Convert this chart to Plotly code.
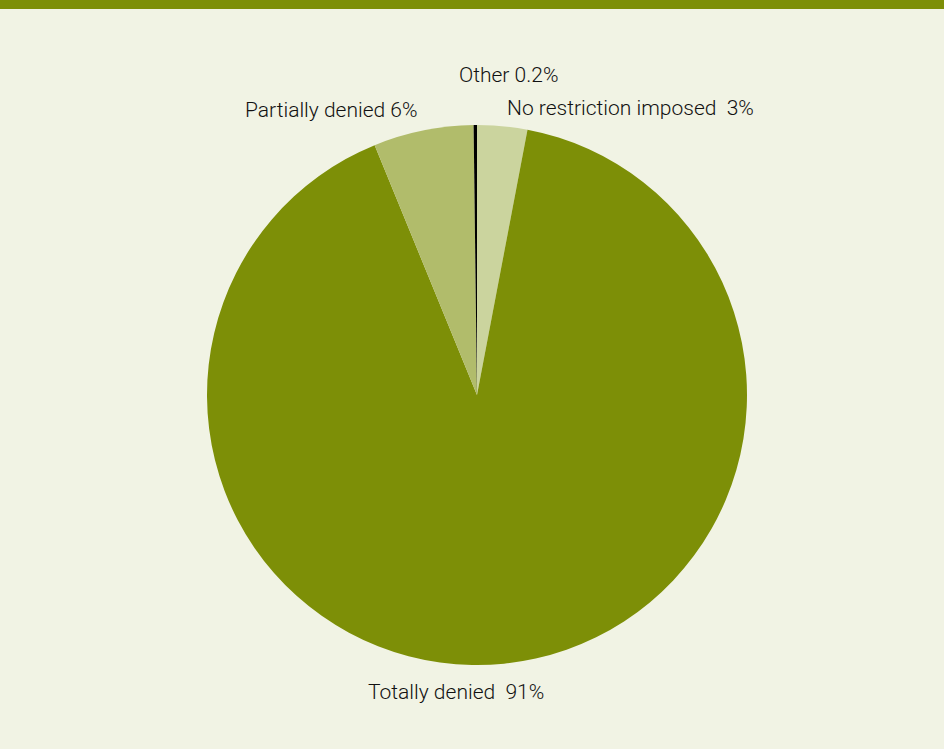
import plotly.graph_objects as go

labels = ["No restriction imposed", "Totally denied", "Partially denied", "Other"]
values = [3, 91, 6, 0.2]
label_texts = ["No restriction imposed\u00a0\u00a03%", "Totally denied\u00a0\u00a091%", "Partially denied 6%", "Other 0.2%"]
colors = ["#cbd49e", "#7d8f07", "#b1bc6b", "#000000"]

W, H = 944, 749
BG = "#f1f3e4"
FONT = "Roboto, sans-serif"

def px(x):
    return x / W

def py(y):
    return 1 - y / H

fig = go.Figure(go.Pie(
    labels=labels,
    values=values,
    sort=False,
    direction="clockwise",
    rotation=0,
    marker=dict(colors=colors, line=dict(width=0)),
    textinfo="none",
    hoverinfo="label+percent",
    showlegend=False,
    domain=dict(x=[px(207), px(747)], y=[py(665), py(125)]),
))

label_pos = {
    "No restriction imposed": (505, 108),
    "Totally denied": (366, 692),
    "Partially denied": (243, 110),
    "Other": (457, 75),
}
annotations = []
for lab, txt in zip(labels, label_texts):
    x, y = label_pos[lab]
    annotations.append(dict(
        x=px(x), y=py(y), xref="paper", yref="paper",
        text=txt, showarrow=False, xanchor="left", yanchor="middle",
        font=dict(family=FONT, size=21, color="#111111", weight=300),
    ))

fig.update_layout(
    width=W, height=H,
    margin=dict(l=0, r=0, t=0, b=0),
    paper_bgcolor=BG,
    plot_bgcolor=BG,
    annotations=annotations,
    shapes=[dict(type="rect", xref="paper", yref="paper", x0=0, x1=1,
                 y0=py(9), y1=1, fillcolor="#7d8f07", line=dict(width=0))],
)

fig.write_html("out.html")
